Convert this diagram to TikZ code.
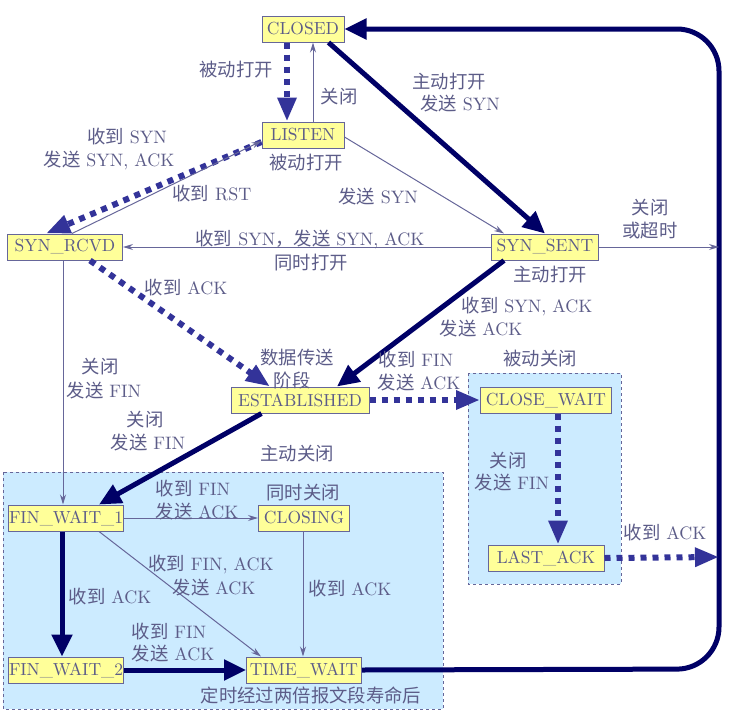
\documentclass[tikz,border=0pt]{standalone}
\usepackage{fontspec}
\setmainfont{lmroman10-regular.otf}
\newfontfamily\cjkfont[Scale=1.02]{Noto Sans CJK SC}
\newcommand{\zhtext}[1]{{\cjkfont #1}}
\usetikzlibrary{arrows.meta}
\definecolor{navy}{RGB}{0,0,102}
\definecolor{dotblue}{RGB}{51,51,153}
\definecolor{thinc}{RGB}{102,102,153}
\definecolor{txt}{RGB}{92,92,136}
\definecolor{nodey}{RGB}{255,255,153}
\definecolor{regionblue}{RGB}{204,235,255}
\tikzset{
  state/.style={draw=thinc, fill=nodey, line width=1pt, minimum height=26pt, inner sep=0pt, text=txt, font=\fontsize{17.5}{19}\selectfont},
  lbl/.style={text=txt, font=\fontsize{18}{21}\selectfont, inner sep=0pt},
  thickarr/.style={draw=navy, line width=5pt, -{Triangle[length=22pt,width=20pt]}},
  dotarr/.style={draw=dotblue, line width=6pt, dash pattern=on 6pt off 6pt, -{Triangle[length=24pt,width=18pt]}},
  thinarr/.style={draw=thinc, line width=1pt, -{Stealth[length=10pt,width=6pt]}},
  region/.style={fill=regionblue, draw=thinc, dashed, line width=0.8pt}
}
\begin{document}
\begin{tikzpicture}[x=1pt,y=-1pt]
\useasboundingbox (0,0) rectangle (750,718);
% regions
\path[region] (3,472) rectangle (443,709);
\path[region] (468,373) rectangle (621,584);
% states
\node[state, minimum width=82pt] (CLOSED) at (303,29) {CLOSED};
\node[state, minimum width=82pt] (LISTEN) at (303,135) {LISTEN};
\node[state, minimum width=115pt] (SYNRCVD) at (65,247) {SYN\_RCVD};
\node[state, minimum width=107pt] (SYNSENT) at (545,247) {SYN\_SENT};
\node[state, minimum width=138pt] (EST) at (300,400) {ESTABLISHED};
\node[state, minimum width=131pt] (CW) at (546,400) {CLOSE\_WAIT};
\node[state, minimum width=116pt] (LA) at (546,558) {LAST\_ACK};
\node[state, minimum width=115pt] (FW1) at (66,518) {FIN\_WAIT\_1};
\node[state, minimum width=91pt] (CLOSING) at (304,518) {CLOSING};
\node[state, minimum width=115pt] (FW2) at (66,670) {FIN\_WAIT\_2};
\node[state, minimum width=115pt] (TW) at (304,670) {TIME\_WAIT};
% loop coordinates
\coordinate (loopA) at (719,247);
\coordinate (loopB) at (719,557);
% thick arrows
\draw[thickarr] ([xshift=-16pt]CLOSED.south east) -- (SYNSENT.north);
\draw[thickarr] ([xshift=13pt]SYNSENT.south west) -- ([xshift=37pt]EST.north);
\draw[thickarr] ([xshift=31pt]EST.south west) -- ([xshift=-25pt]FW1.north east);
\draw[thickarr] ([xshift=-4pt]FW1.south) -- ([xshift=-4pt]FW2.north);
\draw[thickarr] (FW2.east) -- (TW.west);
\draw[draw=navy, line width=5pt, rounded corners=42pt, -{Triangle[length=22pt,width=20pt]}]
  (TW.east) -- (719,669) -- (719,29) -- (CLOSED.east);
% dotted arrows
\draw[dotarr] ([xshift=-16pt]CLOSED.south) -- ([xshift=-16pt]LISTEN.north);
\draw[dotarr] ([yshift=-7pt]LISTEN.west) -- ([xshift=39pt]SYNRCVD.north west);
\draw[dotarr] ([xshift=25pt]SYNRCVD.south) -- ([xshift=-30pt]EST.north);
\draw[dotarr] (EST.east) -- (CW.west);
\draw[dotarr] ([xshift=12pt]CW.south) -- ([xshift=12pt]LA.north);
\draw[dotarr] (LA.east) -- (loopB);
% thin arrows
\draw[thinarr] ([xshift=10pt]LISTEN.north) -- ([xshift=10pt]CLOSED.south);
\draw[thinarr] ([xshift=7pt]SYNRCVD.north) -- ([yshift=-6pt]LISTEN.west);
\draw[thinarr] ([yshift=-2pt]LISTEN.east) -- ([xshift=13pt]SYNSENT.north west);
\draw[thinarr] (SYNSENT.west) -- (SYNRCVD.east);
\draw[thinarr] (SYNSENT.east) -- (loopA);
\draw[thinarr] ([xshift=-2pt]SYNRCVD.south) -- ([xshift=-3pt]FW1.north);
\draw[thinarr] (FW1.east) -- (CLOSING.west);
\draw[thinarr] ([xshift=-25pt]FW1.south east) -- ([xshift=15pt]TW.north west);
\draw[thinarr] ([xshift=-1pt]CLOSING.south) -- ([xshift=-1pt]TW.north);
% labels
\node[lbl] (l1) at (236,70) {\zhtext{被动打开}};
\node[lbl] (l2) at (339,97) {\zhtext{关闭}};
\node[lbl] (l3a) at (449,82) {\zhtext{主动打开}};
\node[lbl] (l3b) at (460,104) {\zhtext{发送} SYN};
\node[lbl] (l4a) at (127,137) {\zhtext{收到} SYN};
\node[lbl] (l4b) at (109,160) {\zhtext{发送} SYN, ACK};
\node[lbl] (l5) at (306,163) {\zhtext{被动打开}};
\node[lbl] (l6) at (212,194) {\zhtext{收到} RST};
\node[lbl] (l7) at (378,197) {\zhtext{发送} SYN};
\node[lbl] (l8) at (310,239) {\zhtext{收到} SYN\zhtext{，发送} SYN, ACK};
\node[lbl] (l9) at (311,263) {\zhtext{同时打开}};
\node[lbl] (l10a) at (650,208) {\zhtext{关闭}};
\node[lbl] (l10b) at (650,231) {\zhtext{或超时}};
\node[lbl] (l11) at (550,275) {\zhtext{主动打开}};
\node[lbl] (l12a) at (527,307) {\zhtext{收到} SYN, ACK};
\node[lbl] (l12b) at (481,329) {\zhtext{发送} ACK};
\node[lbl] (l13) at (186,288) {\zhtext{收到} ACK};
\node[lbl] (l14a) at (297,358) {\zhtext{数据传送}};
\node[lbl] (l14b) at (292,380) {\zhtext{阶段}};
\node[lbl] (l15a) at (416,360) {\zhtext{收到} FIN};
\node[lbl] (l15b) at (419,383) {\zhtext{发送} ACK};
\node[lbl] (l16) at (540,359) {\zhtext{被动关闭}};
\node[lbl] (l17a) at (100,367) {\zhtext{关闭}};
\node[lbl] (l17b) at (104,391) {\zhtext{发送} FIN};
\node[lbl] (l18a) at (145,420) {\zhtext{关闭}};
\node[lbl] (l18b) at (148,443) {\zhtext{发送} FIN};
\node[lbl] (l19) at (297,454) {\zhtext{主动关闭}};
\node[lbl] (l20a) at (508,461) {\zhtext{关闭}};
\node[lbl] (l20b) at (512,483) {\zhtext{发送} FIN};
\node[lbl] (l21) at (665,533) {\zhtext{收到} ACK};
\node[lbl] (l22a) at (193,489) {\zhtext{收到} FIN};
\node[lbl] (l22b) at (197,512) {\zhtext{发送} ACK};
\node[lbl] (l23) at (303,493) {\zhtext{同时关闭}};
\node[lbl] (l24a) at (211,565) {\zhtext{收到} FIN, ACK};
\node[lbl] (l24b) at (214,588) {\zhtext{发送} ACK};
\node[lbl] (l25) at (110,597) {\zhtext{收到} ACK};
\node[lbl] (l26) at (350,589) {\zhtext{收到} ACK};
\node[lbl] (l27a) at (169,632) {\zhtext{收到} FIN};
\node[lbl] (l27b) at (173,654) {\zhtext{发送} ACK};
\node[lbl] (l28) at (311,695) {\zhtext{定时经过两倍报文段寿命后}};
\end{tikzpicture}
\end{document}
